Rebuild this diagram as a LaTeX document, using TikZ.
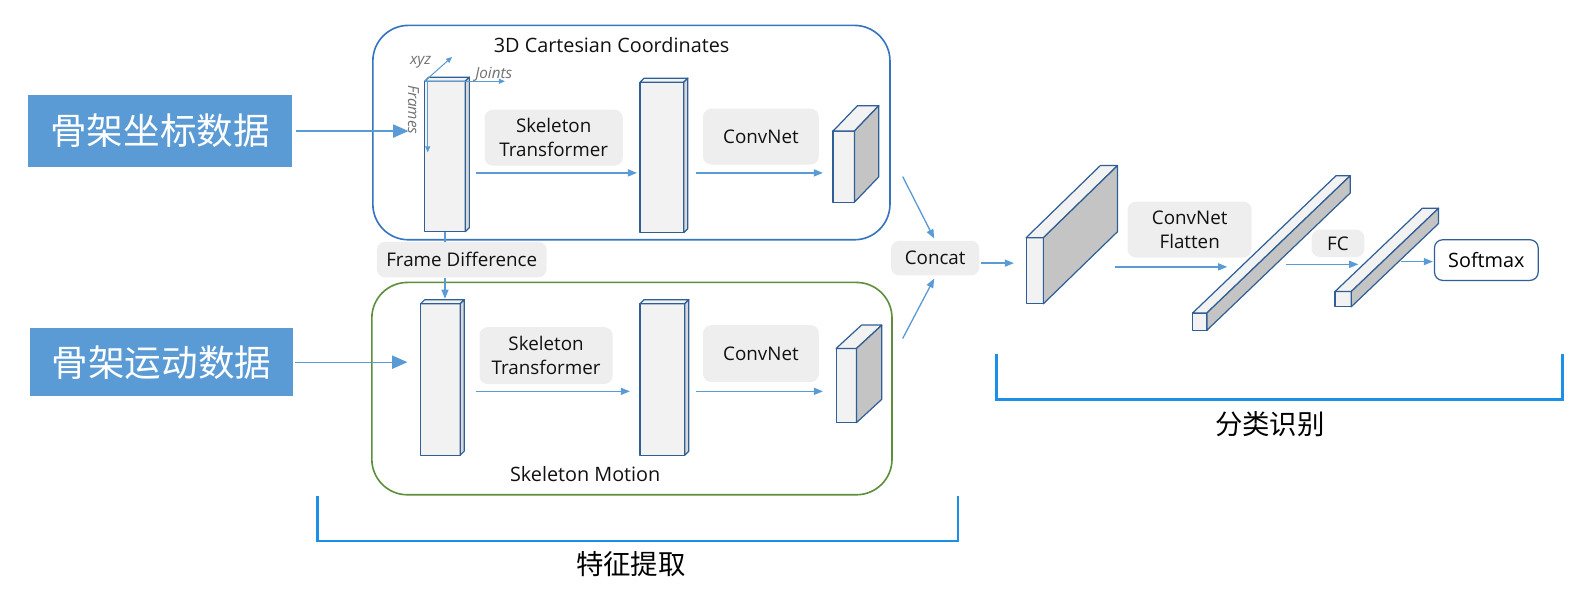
\documentclass[tikz,border=0pt]{standalone}
\usepackage{fontspec}
\setmainfont{Open Sans}
\newfontfamily\cjk{Noto Sans CJK SC}
\usetikzlibrary{calc,arrows.meta}
\definecolor{frameblue}{HTML}{3574C0}
\definecolor{framegreen}{HTML}{5E8F3A}
\definecolor{edgeblue}{HTML}{2F5F96}
\definecolor{flowblue}{HTML}{5B9BD5}
\definecolor{labelblue}{HTML}{5B9BD5}
\definecolor{brkblue}{HTML}{1E8FE6}
\definecolor{boxgray}{HTML}{EEEEEE}
\definecolor{facegray}{HTML}{F2F2F2}
\definecolor{sidegray}{HTML}{C4C4C4}
\definecolor{thingray}{HTML}{D9D9D9}
\definecolor{txt}{HTML}{111111}
\definecolor{axgray}{HTML}{707070}
\newcommand{\prismfaces}[4]{%
  \draw[blk, fill=facegray] (#1.north west) -- ++(#2,#3) -- ($(#1.north east)+(#2,#3)$) -- (#1.north east) -- cycle;
  \draw[blk, fill=#4] (#1.north east) -- ($(#1.north east)+(#2,#3)$) -- ($(#1.south east)+(#2,#3)$) -- (#1.south east) -- cycle;
}
\tikzset{
  blk/.style={draw=edgeblue, line width=1.2pt, line join=round},
  front/.style={blk, fill=facegray, inner sep=0pt, outer sep=0pt},
  frame/.style={line width=1.6pt, rounded corners=35pt, inner sep=0pt},
  gbox/.style={fill=boxgray, rounded corners=8pt, inner sep=0pt, align=center, text=txt, font=\fontsize{18.5}{23.5}\selectfont},
  lbl/.style={fill=labelblue, inner sep=0pt, text=white, font=\cjk\fontsize{36}{40}\selectfont},
  flow/.style={draw=flowblue, line width=1.3pt, -{Triangle[length=9pt,width=7pt]}},
  flowline/.style={draw=flowblue, line width=1.3pt},
  inarrow/.style={draw=flowblue, line width=1.3pt, -{Triangle[length=15pt,width=13pt]}},
  axis/.style={draw=flowblue, line width=1pt, -{Triangle[length=6pt,width=5pt]}},
  axlabel/.style={text=axgray, font=\itshape\fontsize{15}{17}\selectfont, inner sep=0pt},
  title/.style={text=txt, font=\fontsize{19.5}{22}\selectfont, inner sep=0pt},
  bracket/.style={draw=brkblue, line width=2.5pt},
  cjklabel/.style={text=black, font=\cjk\fontsize{27}{30}\selectfont, inner sep=0pt}
}
\begin{document}
\begin{tikzpicture}[x=1pt, y=-1pt]
\useasboundingbox (0,0) rectangle (1568,585);
% frames
\node[frame, draw=frameblue, minimum width=509pt, minimum height=211pt] (topbox) at (621.5,130.5) {};
\node[frame, draw=framegreen, minimum width=512pt, minimum height=209pt] (botbox) at (622,382.5) {};
\node[title] (t1) at (602,44) {3D Cartesian Coordinates};
\node[title] (t2) at (576,467) {Skeleton Motion};
% input labels
\node[lbl, minimum width=259pt, minimum height=70pt] (L1) at (157.5,129) {骨架坐标数据};
\node[lbl, minimum width=259pt, minimum height=67pt] (L2) at (159,356.5) {骨架运动数据};
% blocks row 1
\node[front, minimum width=40pt, minimum height=148pt] (b1) at (438,154) {};
\prismfaces{b1}{4}{-4}{thingray}
\node[front, minimum width=43pt, minimum height=148pt] (b2) at (651.5,155) {};
\prismfaces{b2}{4}{-4}{thingray}
\node[front, minimum width=21pt, minimum height=70pt] (c1) at (830.5,164) {};
\prismfaces{c1}{24}{-25}{sidegray}
% blocks row 2
\node[front, minimum width=39pt, minimum height=149pt] (b3) at (433.5,373.5) {};
\prismfaces{b3}{4}{-4}{thingray}
\node[front, minimum width=44pt, minimum height=149pt] (b4) at (652,373.5) {};
\prismfaces{b4}{4}{-4}{thingray}
\node[front, minimum width=20pt, minimum height=73pt] (c2) at (833,379.5) {};
\prismfaces{c2}{25}{-23}{sidegray}
% right part blocks
\node[front, minimum width=17pt, minimum height=65pt] (P) at (1018.5,266.5) {};
\prismfaces{P}{73}{-71}{sidegray}
\node[front, minimum width=14pt, minimum height=17pt] (LB) at (1181,316.5) {};
\prismfaces{LB}{141}{-135}{sidegray}
\node[front, minimum width=16pt, minimum height=15pt] (SB) at (1322,294.5) {};
\prismfaces{SB}{86}{-82}{sidegray}
% gray label boxes
\node[gbox, minimum width=136pt, minimum height=55pt] (ST1) at (545,135.5) {Skeleton\\Transformer};
\node[gbox, minimum width=114pt, minimum height=55pt] (CN1) at (749,134.5) {ConvNet};
\node[gbox, minimum width=131pt, minimum height=56pt] (ST2) at (537.5,350) {Skeleton\\Transformer};
\node[gbox, minimum width=114pt, minimum height=56pt] (CN2) at (749,348) {ConvNet};
\node[gbox, minimum width=167pt, minimum height=35pt] (FD) at (454.5,255.5) {Frame Difference};
\node[gbox, minimum width=87pt, minimum height=34pt] (cc) at (920.5,254) {Concat};
\node[gbox, minimum width=122pt, minimum height=55pt] (CNF) at (1171,226) {ConvNet\\Flatten};
\node[gbox, minimum width=52pt, minimum height=27pt] (FC) at (1317,239.5) {FC};
\node[blk, fill=white, rounded corners=8pt, inner sep=0pt, minimum width=102pt, minimum height=40pt, text=black, font=\fontsize{19.5}{22}\selectfont] (SM) at (1463,256) {Softmax};
% axes on first block
\node[axlabel] (ax) at (414,61) {xyz};
\node[axlabel] (aj) at (486,73) {Joints};
\node[axlabel, rotate=-90] (af) at (407,108) {Frames};
\draw[axis] (b1.north west) -- ($(b1.north west)+(27,-24)$);
\draw[axis] (b1.north west) -- ($(b1.north west)+(79,0)$);
\draw[axis] ($(b1.north west)+(3,0)$) -- ($(b1.north west)+(3,70)$);
% input arrows
\draw[inarrow] ($(L1.east)+(4,0)$) -- ($(L1.east -| b1.west)+(-16,0)$);
\draw[inarrow] ($(L2.east)+(2,0)$) -- ($(L2.east -| b3.west)+(-13,0)$);
% row arrows
\draw[flow] ($(ST1.south -| b1.east)+(11,7)$) -- ($(ST1.south -| b2.west)+(-3,7)$);
\draw[flow] ($(CN1.south -| b2.east)+(12,8)$) -- ($(CN1.south -| c1.west)+(-10,8)$);
\draw[flow] ($(ST2.south -| b3.east)+(16,7)$) -- ($(ST2.south -| b4.west)+(-10,7)$);
\draw[flow] ($(CN2.south -| b4.east)+(11,9)$) -- ($(CN2.south -| c2.west)+(-13,9)$);
% frame difference
\draw[flowline] (b1.south) -- (b1.south |- FD.north);
\draw[flow] (b1.south |- FD.south) -- ($(b1.south |- b3.north)+(0,-5)$);
% concat
\draw[flow] ($(cc.north)+(-32,-63)$) -- ($(cc.north)+(-1,-2)$);
\draw[flow] ($(cc.south)+(-32,62)$) -- ($(cc.south)+(-1,3)$);
\draw[flow] ($(cc.east)+(1,5)$) -- ($(cc.east -| P.west)+(-12,5)$);
\draw[flow] ($(CNF.south)+(-74,9)$) -- ($(CNF.south)+(37,9)$);
\draw[flow] ($(FC.south)+(-51,7)$) -- ($(FC.south)+(20,7)$);
\draw[flow] ($(SM.west)+(-32,1.5)$) -- ($(SM.west)+(-1,1.5)$);
% brackets
\coordinate (k1a) at (312.7,488);
\coordinate (k1b) at (943,488);
\draw[bracket] (k1a) -- ($(k1a)+(0,44.5)$) -- ($(k1b)+(0,44.5)$) -- (k1b);
\node[cjklabel] (fe) at (621,555) {特征提取};
\coordinate (k2a) at (981,348);
\coordinate (k2b) at (1538,348);
\draw[bracket] (k2a) -- ($(k2a)+(0,45)$) -- ($(k2b)+(0,45)$) -- (k2b);
\node[cjklabel] (cl) at (1250,417) {分类识别};
\end{tikzpicture}
\end{document}
